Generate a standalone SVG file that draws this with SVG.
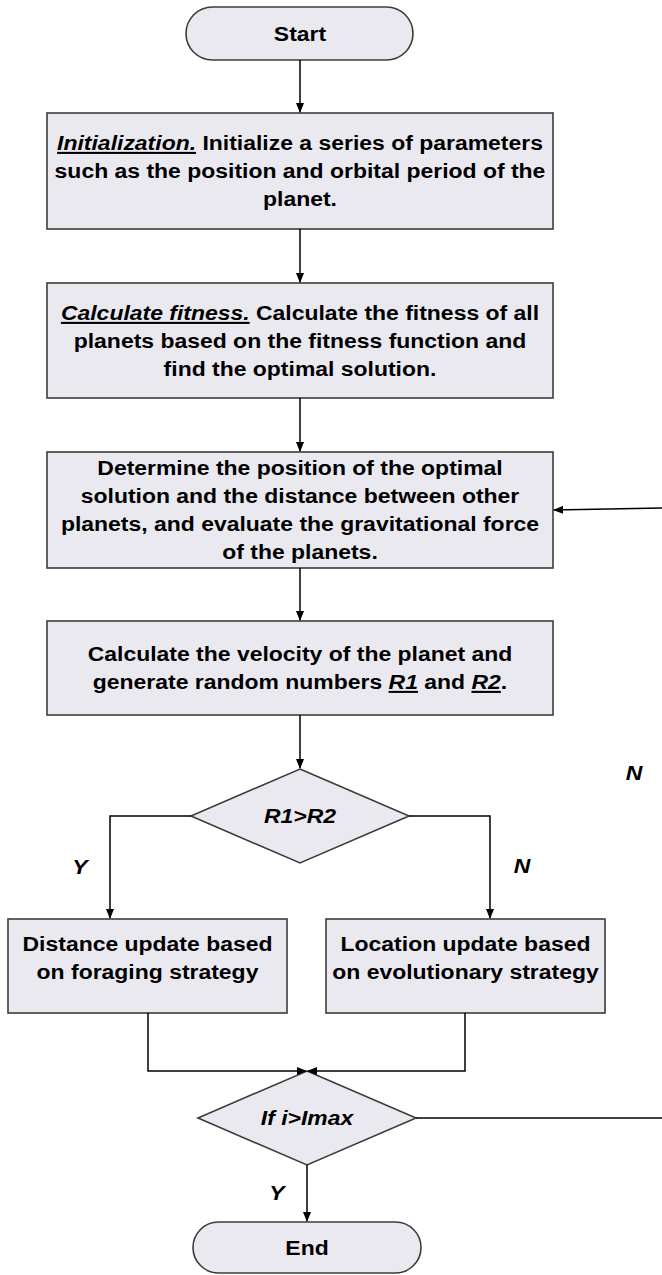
<svg xmlns="http://www.w3.org/2000/svg" width="662" height="1275" viewBox="0 0 662 1275">
<style>
.box{fill:#EBE9F0;stroke:#3c3c3c;stroke-width:1.6}
.t{font-family:"Liberation Sans",Arial,sans-serif;font-weight:bold;font-size:20.5px;fill:#000;text-anchor:middle}
.i{font-style:italic}
.u{text-decoration:underline}
.c{fill:none;stroke:#000;stroke-width:1.5}
</style>
<defs>
<marker id="ah" markerWidth="10" markerHeight="8" refX="9" refY="4" orient="auto" markerUnits="userSpaceOnUse">
<path d="M0,0 L10,4 L0,8 Z" fill="#000"/>
</marker>
</defs>
<rect width="662" height="1275" fill="#fff"/>

<g id="start">
<rect class="box" x="186" y="7" width="227" height="53" rx="26.5"/>
<g transform="translate(300,0) scale(1.12,1)"><text class="t" x="0" y="41">Start</text></g>
</g>

<g id="init">
<rect class="box" x="47" y="113" width="506" height="116"/>
<g transform="translate(300,0) scale(1.12,1)">
<text class="t" x="0" y="150"><tspan class="i u">Initialization.</tspan> Initialize a series of parameters</text>
<text class="t" x="0" y="178">such as the position and orbital period of the</text>
<text class="t" x="0" y="206">planet.</text>
</g>
</g>

<g id="fitness">
<rect class="box" x="47" y="283" width="506" height="115"/>
<g transform="translate(300,0) scale(1.12,1)">
<text class="t" x="0" y="320"><tspan class="i u">Calculate fitness.</tspan> Calculate the fitness of all</text>
<text class="t" x="0" y="348">planets based on the fitness function and</text>
<text class="t" x="0" y="376">find the optimal solution.</text>
</g>
</g>

<g id="determine">
<rect class="box" x="47" y="452" width="506" height="116"/>
<g transform="translate(300,0) scale(1.12,1)">
<text class="t" x="0" y="475">Determine the position of the optimal</text>
<text class="t" x="0" y="503">solution and the distance between other</text>
<text class="t" x="0" y="531">planets, and evaluate the gravitational force</text>
<text class="t" x="0" y="559">of the planets.</text>
</g>
</g>

<g id="velocity">
<rect class="box" x="47" y="621" width="506" height="94"/>
<g transform="translate(300,0) scale(1.12,1)">
<text class="t" x="0" y="661">Calculate the velocity of the planet and</text>
<text class="t" x="0" y="689">generate random numbers <tspan class="i u">R1</tspan> and <tspan class="i u">R2</tspan>.</text>
</g>
</g>

<g id="decision1">
<polygon class="box" points="300,769 409,816 300,863 191,816"/>
<g transform="translate(300,0) scale(1.12,1)"><text class="t i" x="0" y="823">R1&gt;R2</text></g>
</g>

<g id="labels">
<g transform="translate(80,0) scale(1.12,1)"><text class="t i" x="0" y="874">Y</text></g>
<g transform="translate(522,0) scale(1.12,1)"><text class="t i" x="0" y="873">N</text></g>
<g transform="translate(634,0) scale(1.12,1)"><text class="t i" x="0" y="780">N</text></g>
<g transform="translate(277,0) scale(1.12,1)"><text class="t i" x="0" y="1200">Y</text></g>
</g>

<g id="distance">
<rect class="box" x="8" y="919" width="279" height="94"/>
<g transform="translate(147.5,0) scale(1.12,1)">
<text class="t" x="0" y="951">Distance update based</text>
<text class="t" x="0" y="979">on foraging strategy</text>
</g>
</g>

<g id="location">
<rect class="box" x="326" y="919" width="279" height="94"/>
<g transform="translate(465.5,0) scale(1.12,1)">
<text class="t" x="0" y="951">Location update based</text>
<text class="t" x="0" y="979">on evolutionary strategy</text>
</g>
</g>

<g id="decision2">
<polygon class="box" points="307,1071 416,1118 307,1165 198,1118"/>
<g transform="translate(307,0) scale(1.12,1)"><text class="t i" x="0" y="1125">If i&gt;Imax</text></g>
</g>

<g id="end">
<rect class="box" x="193" y="1222" width="228" height="51" rx="25.5"/>
<g transform="translate(307,0) scale(1.12,1)"><text class="t" x="0" y="1255">End</text></g>
</g>

<g id="connectors">
<line class="c" x1="300" y1="60" x2="300" y2="112" marker-end="url(#ah)"/>
<line class="c" x1="300" y1="229" x2="300" y2="282" marker-end="url(#ah)"/>
<line class="c" x1="300" y1="398" x2="300" y2="451" marker-end="url(#ah)"/>
<line class="c" x1="300" y1="568" x2="300" y2="620" marker-end="url(#ah)"/>
<line class="c" x1="300" y1="715" x2="300" y2="768" marker-end="url(#ah)"/>
<polyline class="c" points="191,816 110,816 110,918" marker-end="url(#ah)"/>
<polyline class="c" points="409,816 490,816 490,918" marker-end="url(#ah)"/>
<polyline class="c" points="148,1013 148,1071 306,1071" marker-end="url(#ah)"/>
<polyline class="c" points="465,1013 465,1071 308,1071" marker-end="url(#ah)"/>
<line class="c" x1="307" y1="1165" x2="307" y2="1221" marker-end="url(#ah)"/>
<line class="c" x1="416" y1="1118" x2="662" y2="1118"/>
<line class="c" x1="662" y1="508" x2="554" y2="510" marker-end="url(#ah)"/>
</g>
</svg>
